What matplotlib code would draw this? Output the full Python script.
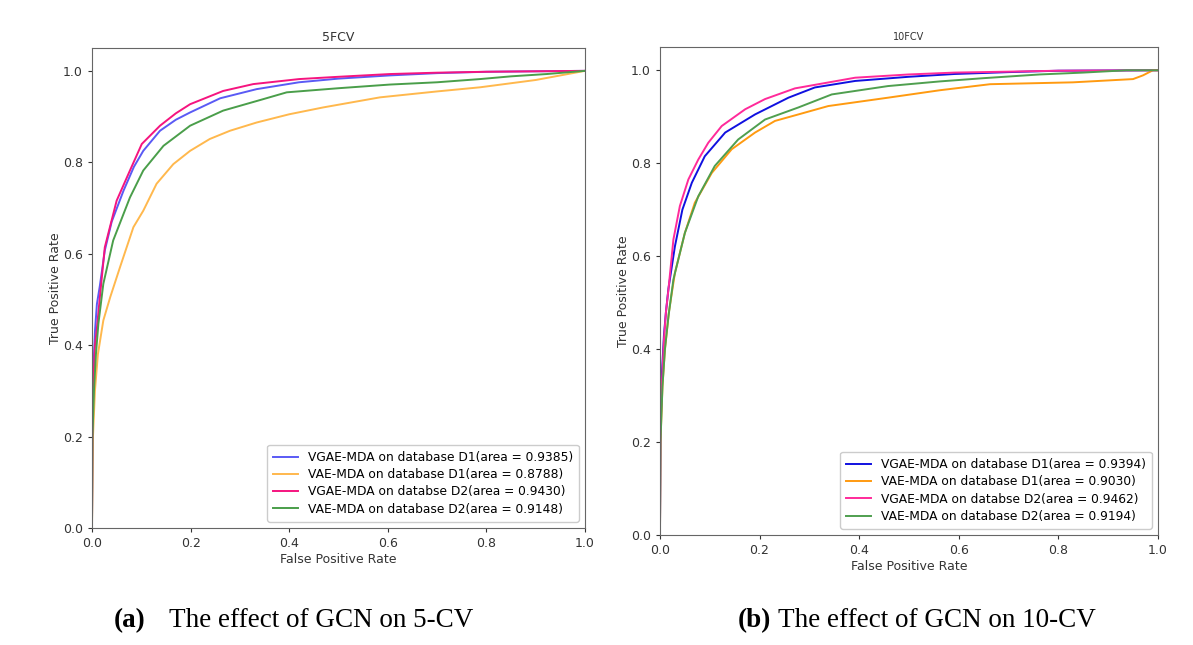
import matplotlib

matplotlib.use("Agg")
import matplotlib.pyplot as plt

# ---- 5-fold CV ROC curves ----
fpr_5_vgae_d1 = [0, 0.001, 0.003, 0.006, 0.010, 0.016, 0.026, 0.040, 0.064, 0.085, 0.104, 0.138,
                 0.170, 0.199, 0.260, 0.334, 0.420, 0.500, 0.604, 0.700, 0.800, 0.900, 1.0]
tpr_5_vgae_d1 = [0, 0.25, 0.35, 0.43, 0.49, 0.53, 0.607, 0.67, 0.738, 0.79, 0.825, 0.869,
                 0.893, 0.909, 0.940, 0.960, 0.975, 0.983, 0.990, 0.995, 0.998, 0.999, 1.0]

fpr_5_vae_d1 = [0, 0.002, 0.006, 0.012, 0.023, 0.037, 0.057, 0.084, 0.104, 0.131, 0.165, 0.199,
                0.239, 0.280, 0.334, 0.400, 0.469, 0.584, 0.700, 0.787, 0.900, 1.0]
tpr_5_vae_d1 = [0, 0.20, 0.30, 0.38, 0.454, 0.505, 0.571, 0.658, 0.694, 0.753, 0.796, 0.825,
                0.851, 0.869, 0.887, 0.905, 0.920, 0.942, 0.955, 0.964, 0.980, 1.0]

fpr_5_vgae_d2 = [0, 0.001, 0.003, 0.006, 0.0095, 0.016, 0.026, 0.050, 0.077, 0.101, 0.138, 0.170,
                 0.199, 0.266, 0.327, 0.420, 0.500, 0.604, 0.700, 0.800, 1.0]
tpr_5_vgae_d2 = [0, 0.22, 0.32, 0.40, 0.432, 0.505, 0.614, 0.716, 0.782, 0.840, 0.880, 0.907,
                 0.927, 0.956, 0.971, 0.982, 0.987, 0.993, 0.996, 0.998, 1.0]

fpr_5_vae_d2 = [0, 0.001, 0.004, 0.008, 0.013, 0.023, 0.043, 0.077, 0.104, 0.145, 0.199, 0.266,
                0.347, 0.395, 0.500, 0.604, 0.700, 0.787, 0.850, 0.922, 1.0]
tpr_5_vae_d2 = [0, 0.20, 0.30, 0.38, 0.447, 0.534, 0.629, 0.723, 0.782, 0.836, 0.880, 0.913,
                0.938, 0.953, 0.962, 0.970, 0.975, 0.982, 0.988, 0.993, 1.0]

# ---- 10-fold CV ROC curves ----
fpr_10_vgae_d1 = [0, 0.001, 0.004, 0.008, 0.012, 0.017, 0.030, 0.045, 0.064, 0.090, 0.131, 0.191,
                  0.258, 0.311, 0.392, 0.500, 0.592, 0.700, 0.800, 1.0]
tpr_10_vgae_d1 = [0, 0.25, 0.35, 0.43, 0.48, 0.53, 0.621, 0.70, 0.758, 0.815, 0.866, 0.905,
                  0.941, 0.963, 0.977, 0.986, 0.992, 0.996, 0.999, 1.0]

fpr_10_vae_d1 = [0, 0.001, 0.005, 0.010, 0.018, 0.030, 0.050, 0.070, 0.104, 0.144, 0.191, 0.231,
                 0.278, 0.338, 0.458, 0.562, 0.663, 0.829, 0.950, 0.970, 0.990, 1.0]
tpr_10_vae_d1 = [0, 0.20, 0.32, 0.40, 0.48, 0.564, 0.650, 0.715, 0.779, 0.830, 0.866, 0.891,
                 0.905, 0.923, 0.941, 0.957, 0.970, 0.974, 0.981, 0.989, 1.0, 1.0]

fpr_10_vgae_d2 = [0, 0.001, 0.004, 0.008, 0.012, 0.017, 0.027, 0.040, 0.057, 0.077, 0.097, 0.124,
                  0.171, 0.211, 0.271, 0.392, 0.500, 0.592, 0.700, 0.800, 1.0]
tpr_10_vgae_d2 = [0, 0.22, 0.33, 0.42, 0.48, 0.528, 0.636, 0.708, 0.765, 0.808, 0.844, 0.880,
                  0.916, 0.938, 0.961, 0.984, 0.991, 0.995, 0.997, 0.999, 1.0]

fpr_10_vae_d2 = [0, 0.001, 0.005, 0.010, 0.017, 0.027, 0.050, 0.077, 0.110, 0.157, 0.211, 0.278,
                 0.345, 0.458, 0.562, 0.650, 0.763, 0.850, 0.937, 1.0]
tpr_10_vae_d2 = [0, 0.20, 0.32, 0.40, 0.47, 0.550, 0.650, 0.729, 0.794, 0.851, 0.894, 0.920,
                 0.948, 0.966, 0.976, 0.983, 0.991, 0.995, 1.0, 1.0]

labels_5 = [
    "VGAE-MDA on database D1(area = 0.9385)",
    "VAE-MDA on database D1(area = 0.8788)",
    "VGAE-MDA on databse D2(area = 0.9430)",
    "VAE-MDA on database D2(area = 0.9148)",
]
labels_10 = [
    "VGAE-MDA on database D1(area = 0.9394)",
    "VAE-MDA on database D1(area = 0.9030)",
    "VGAE-MDA on databse D2(area = 0.9462)",
    "VAE-MDA on database D2(area = 0.9194)",
]
colors_5 = ["#5a5af5", "#ffb84d", "#f5147f", "#4a9e4a"]
colors_10 = ["#1010e0", "#ff9a10", "#ff2a9a", "#4f9f4f"]


def draw_panel(ax, curves, labels, colors, title, title_size):
    for (fpr, tpr), label, color in zip(curves, labels, colors):
        ax.plot(fpr, tpr, color=color, linewidth=1.4, label=label)
    ax.set_xlim(0.0, 1.0)
    ax.set_ylim(0.0, 1.05)
    ax.set_xlabel("False Positive Rate", fontsize=9, color="#333333", labelpad=2)
    ax.set_ylabel("True Positive Rate", fontsize=9, color="#333333", labelpad=1)
    ax.set_title(title, fontsize=title_size, color="#333333", pad=5)
    ax.tick_params(labelsize=9, colors="#333333", length=3)
    for spine in ax.spines.values():
        spine.set_color("#666666")
    ax.legend(loc="lower right", fontsize=8.8, handlelength=2.0, borderpad=0.5,
              labelspacing=0.35, framealpha=1.0, edgecolor="#cccccc")


fig = plt.figure(figsize=(11.93, 6.45), dpi=100)

ax1 = fig.add_axes([0.0771, 0.1814, 0.4133, 0.7442])
draw_panel(
    ax1,
    [(fpr_5_vgae_d1, tpr_5_vgae_d1), (fpr_5_vae_d1, tpr_5_vae_d1),
     (fpr_5_vgae_d2, tpr_5_vgae_d2), (fpr_5_vae_d2, tpr_5_vae_d2)],
    labels_5, colors_5, "5FCV", 9,
)

ax2 = fig.add_axes([0.5532, 0.1705, 0.4174, 0.7566])
draw_panel(
    ax2,
    [(fpr_10_vgae_d1, tpr_10_vgae_d1), (fpr_10_vae_d1, tpr_10_vae_d1),
     (fpr_10_vgae_d2, tpr_10_vgae_d2), (fpr_10_vae_d2, tpr_10_vae_d2)],
    labels_10, colors_10, "10FCV", 7,
)

serif = "Liberation Serif"
fig.text(0.095, 0.038, "(a)", fontsize=19.5, family=serif, fontweight="bold", va="center")
fig.text(0.142, 0.038, "The effect of GCN on 5-CV", fontsize=19.5, family=serif, va="center")
fig.text(0.618, 0.038, "(b)", fontsize=19.5, family=serif, fontweight="bold", va="center")
fig.text(0.652, 0.038, "The effect of GCN on 10-CV", fontsize=19.5, family=serif, va="center")

fig.savefig("out.png", dpi=100)
plt.close(fig)
